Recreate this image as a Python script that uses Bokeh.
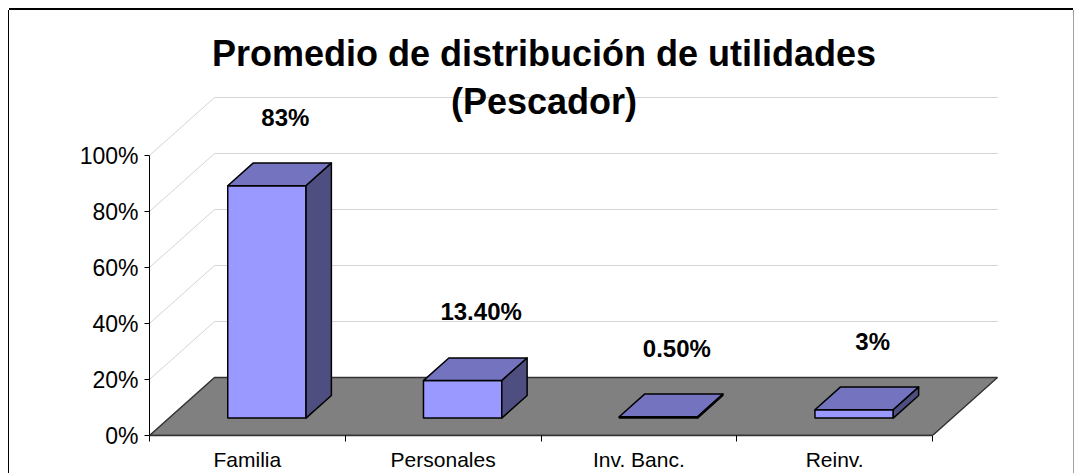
from bokeh.plotting import figure
from bokeh.models import FixedTicker, PrintfTickFormatter, Range1d
from bokeh.core.properties import value
from bokeh.embed import file_html
from bokeh.resources import INLINE

# ---- data ----
title_lines = ["Promedio de distribución de utilidades", "(Pescador)"]
categories = ["Familia", "Personales", "Inv. Banc.", "Reinv."]
shares = [83, 13.4, 0.5, 3]
share_labels = ["83%", "13.40%", "0.50%", "3%"]
y_ticks = [0, 20, 40, 60, 80, 100]

# ---- layout constants ----
FONT = "Liberation Sans"
W, H = 1064, 463
LEFT, BOTTOM = 140, 38
frame_w = W - LEFT
frame_h = H - BOTTOM
PX_X = 195.75   # pixels per category
PX_Y = 2.8      # pixels per percent
DX = 65 / PX_X  # depth offset (x) of back wall
DY = 58 / PX_Y  # depth offset (y) of back wall
F, B = 0.3, 0.69  # bar front / back depth
BW = 0.4          # bar width (category units)

n = len(categories)

p = figure(width=W, height=H,
           x_range=Range1d(0, frame_w / PX_X), y_range=Range1d(0, frame_h / PX_Y),
           output_backend="svg", toolbar_location=None,
           min_border_left=LEFT, min_border_bottom=BOTTOM,
           min_border_top=0, min_border_right=0,
           background_fill_color="white", border_fill_color="white",
           outline_line_color=None)
p.styles = {"margin-left": "9px", "margin-top": "10px",
            "box-shadow": "-1px 0 0 0 black, 0 -2px 0 0 black, 1px 0 0 0 #a0a0a0"}
p.xgrid.visible = False
p.ygrid.visible = False

# walls gridlines
g = [v for v in y_ticks if v > 0]
p.segment(x0=[0] * len(g), y0=g, x1=[DX] * len(g), y1=[v + DY for v in g],
          line_color="#d4d4d4", line_width=1)
p.segment(x0=[DX] * len(g), y0=[v + DY for v in g], x1=[n + DX] * len(g),
          y1=[v + DY for v in g], line_color="#d4d4d4", line_width=1)

# floor
p.patch(x=[0, n, n + DX, DX], y=[0, 0, DY, DY], fill_color="#808080",
        line_color="#333333", line_width=1.5)
p.line(x=[n + 0.012, n + DX + 0.012], y=[0, DY], line_color="white", line_width=1)

# bars
fl = [i + 0.5 - BW / 2 + F * DX for i in range(n)]
fr = [i + 0.5 + BW / 2 + F * DX for i in range(n)]
fb = F * DY
ft = [v + fb for v in shares]
ddx = (B - F) * DX
ddy = (B - F) * DY

p.quad(left=fl, right=fr, bottom=[fb] * n, top=ft,
       fill_color="#9999FF", line_color="black", line_width=1.5)
p.patches(xs=[[a, b, b + ddx, a + ddx] for a, b in zip(fl, fr)],
          ys=[[t, t, t + ddy, t + ddy] for t in ft],
          fill_color="#7373BF", line_color="black", line_width=1.5, line_join="round")
p.patches(xs=[[b, b + ddx, b + ddx, b] for b in fr],
          ys=[[fb, fb + ddy, t + ddy, t] for t in ft],
          fill_color="#4E4E80", line_color="black", line_width=1.5, line_join="round")

# value labels
p.text(x=[i + 0.5 + 38 / PX_X for i in range(n)],
       y=[v + B * DY + 46 / PX_Y for v in shares],
       text=share_labels, text_font=value(FONT), text_font_style="bold",
       text_font_size="24px", text_align="center", text_baseline="middle",
       text_color="black")

# title
tx = 394.5 / PX_X
p.text(x=[tx, tx], y=[382.5 / PX_Y, 334 / PX_Y],
       text=title_lines, text_font=value(FONT), text_font_style="bold",
       text_font_size="36px", text_align="center", text_baseline="middle",
       text_color="black")

# y axis
ya = p.yaxis[0]
ya.ticker = FixedTicker(ticks=y_ticks, minor_ticks=[])
ya.formatter = PrintfTickFormatter(format="%d%%")
ya.bounds = (0, 100)
ya.major_tick_out = 5
ya.major_tick_in = 0
ya.minor_tick_out = 0
ya.minor_tick_in = 0
ya.axis_line_color = "black"
ya.major_tick_line_color = "black"
ya.major_label_standoff = 6
ya.major_label_text_font = FONT
ya.major_label_text_font_size = "23px"
ya.major_label_text_color = "black"

# x axis
xa = p.xaxis[0]
xa.ticker = FixedTicker(ticks=[i + 0.5 for i in range(n)],
                        minor_ticks=list(range(n + 1)))
xa.major_label_overrides = {i + 0.5: c for i, c in enumerate(categories)}
xa.bounds = (0, n)
xa.major_tick_out = 0
xa.major_tick_in = 0
xa.minor_tick_out = 6
xa.minor_tick_in = 0
xa.minor_tick_line_color = "black"
xa.axis_line_color = "#333333"
xa.axis_line_width = 1.5
xa.major_label_standoff = 6
xa.major_label_text_font = FONT
xa.major_label_text_font_size = "21px"
xa.major_label_text_color = "black"

open("out.html", "w").write(file_html(p, INLINE))
